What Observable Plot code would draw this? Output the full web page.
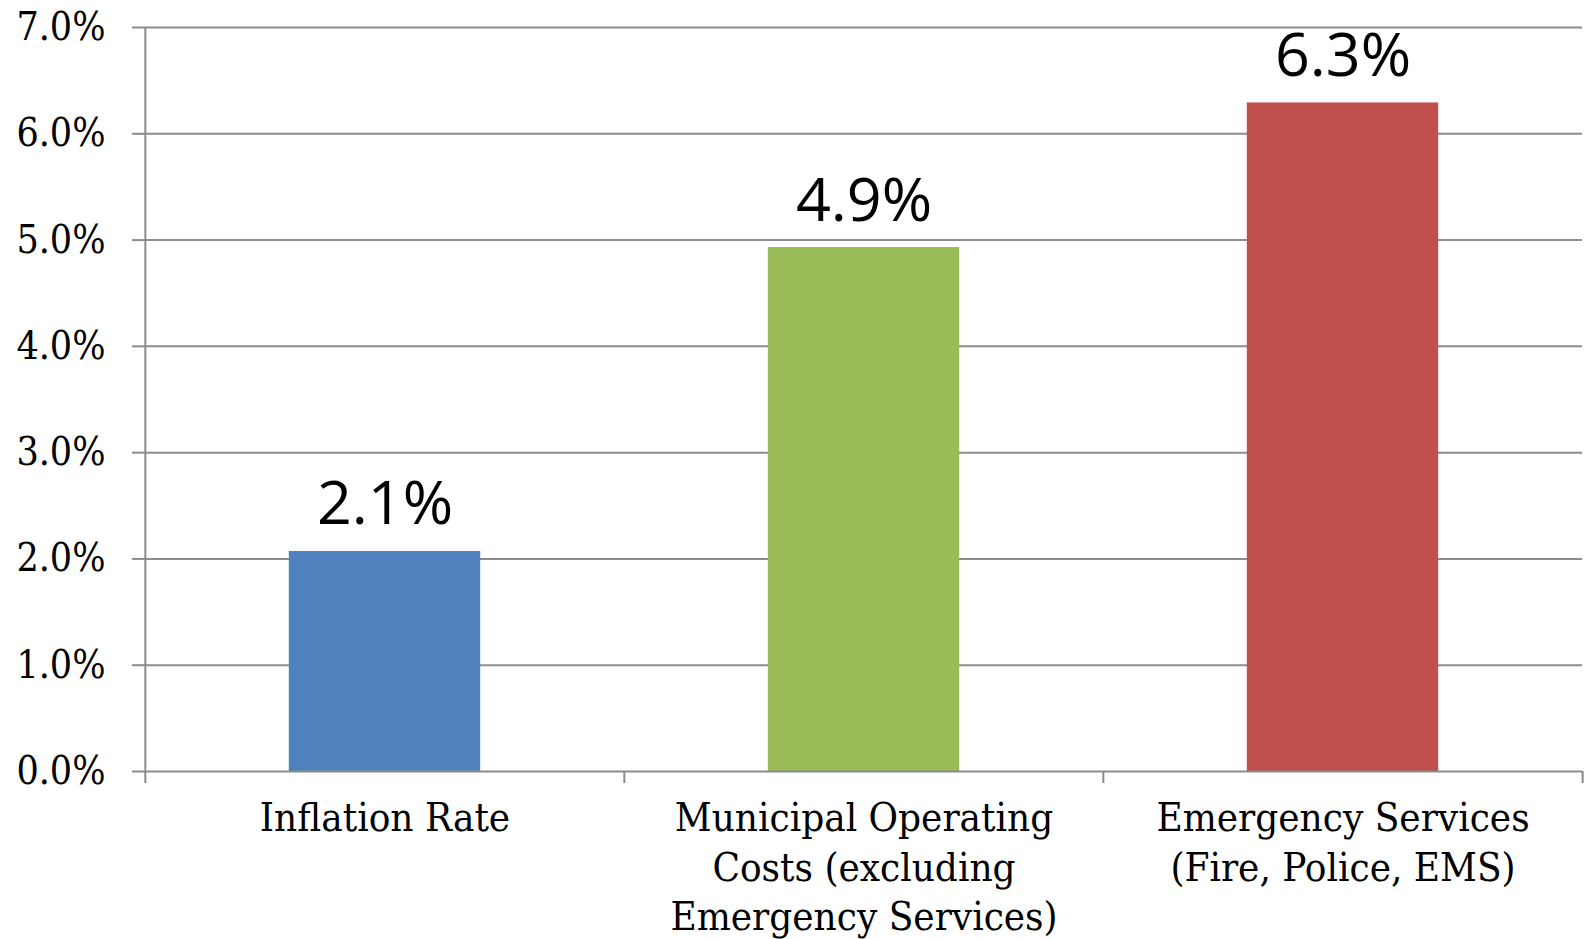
<!DOCTYPE html>
<html><head><meta charset="utf-8">
<script src="https://cdn.jsdelivr.net/npm/d3@7"></script>
<script src="https://cdn.jsdelivr.net/npm/@observablehq/plot@0.6"></script>
<style>body{margin:0;background:#fff}#chart svg{display:block}</style>
</head><body><div id="chart"></div>
<script>
const categories = ["Inflation Rate", "Municipal Operating\nCosts (excluding\nEmergency Services)", "Emergency Services\n(Fire, Police, EMS)"];
const values = [2.07, 4.93, 6.29];
const valueLabels = ["2.1%", "4.9%", "6.3%"];
const colors = ["#4F81BD", "#9BBB59", "#C0504D"];
const yTicks = [0, 1, 2, 3, 4, 5, 6, 7];

const data = categories.map((c, i) => ({cat: c, value: values[i], label: valueLabels[i], color: colors[i]}));

const W = 1584, H = 939;
const mL = 144, mR = 2, mT = 27, mB = 168;
const step = (W - mL - mR) / categories.length;
const inset = step * 0.3;
const grid = "#8c8c8c";
const serif = "DejaVu Serif";

const chart = Plot.plot({
  width: W, height: H,
  marginLeft: mL, marginRight: mR, marginTop: mT, marginBottom: mB,
  x: {domain: categories, padding: 0, axis: null},
  y: {domain: [0, 7], axis: null},
  style: {background: "#fff"},
  marks: [
    Plot.gridY(yTicks.slice(1), {stroke: grid, strokeOpacity: 1, strokeWidth: 2}),
    Plot.axisY({ticks: yTicks, tickSize: 12, tickPadding: 27, stroke: grid, strokeWidth: 2, label: null,
      tickFormat: d => d.toFixed(1) + "%", fontSize: 39, fontFamily: serif, fill: "#000"}),
    Plot.barY(data, {x: "cat", y: "value", fill: "color", insetLeft: inset, insetRight: inset}),
    Plot.ruleY([0], {stroke: grid, strokeWidth: 2}),
    Plot.ruleX([categories[0]], {y1: 0, y2: 7, dx: -step / 2, stroke: grid, strokeWidth: 2}),
    Plot.axisX({ticks: categories, tickSize: 12, tickFormat: () => "", label: null, dx: -step / 2, stroke: grid, strokeWidth: 2}),
    Plot.axisX({ticks: [categories[categories.length - 1]], tickSize: 12, tickFormat: () => "", label: null, dx: step / 2, stroke: grid, strokeWidth: 2}),
    Plot.text(data, {x: "cat", y: 0, text: "cat", lineAnchor: "top", dy: 25, lineHeight: 1.23,
      fontSize: 40, fontFamily: serif, fill: "#000"}),
    Plot.text(data, {x: "cat", y: "value", text: "label", lineAnchor: "bottom", dy: -27,
      fontSize: 61, fontFamily: "Open Sans", fill: "#000"})
  ]
});
chart.querySelectorAll('[font-family="DejaVu Serif"]').forEach(g => g.style.fontStretch = "condensed");
document.getElementById("chart").appendChild(chart);
</script>
</body></html>
